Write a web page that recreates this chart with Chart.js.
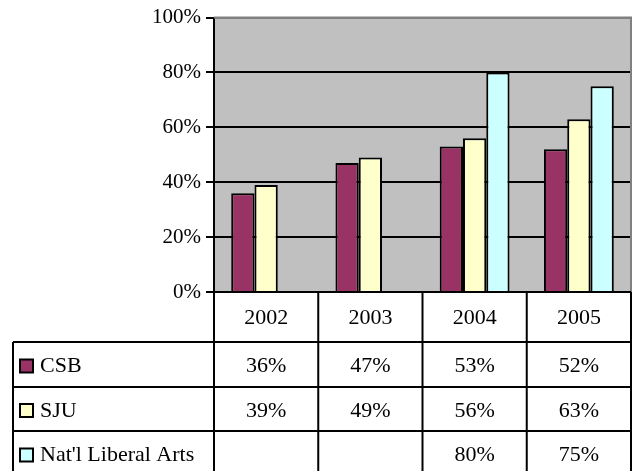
<!DOCTYPE html>
<html>
<head>
<meta charset="utf-8">
<script src="https://cdn.jsdelivr.net/npm/chart.js@4"></script>
<style>
  html, body { margin: 0; padding: 0; background: #ffffff; }
  #wrap { width: 634px; height: 471px; }
</style>
</head>
<body>
<div id="wrap"><canvas id="chart" width="634" height="471"></canvas></div>
<script>
// Dados do gráfico
const years = ['2002', '2003', '2004', '2005'];
const csb = [36, 47, 53, 52];
const sju = [39, 49, 56, 63];
const natlLiberalArts = [null, null, 80, 75];
const seriesNames = ['CSB', 'SJU', "Nat'l Liberal Arts"];
const seriesColors = ['#993366', '#ffffcc', '#ccffff'];

const serif = '"Liberation Serif", "DejaVu Serif", serif';

// Fundo cinza da área do gráfico e borda
const plotBackground = {
    id: 'plotBackground',
    beforeDraw(chart) {
        const { ctx, chartArea: a } = chart;
        ctx.save();
        ctx.fillStyle = '#c0c0c0';
        ctx.fillRect(a.left, a.top, a.right - a.left, a.bottom - a.top);
        ctx.restore();
    },
    afterDatasetsDraw(chart) {
        const { ctx, chartArea: a } = chart;
        ctx.save();
        ctx.strokeStyle = '#808080';
        ctx.lineWidth = 2;
        ctx.beginPath();
        ctx.moveTo(a.left, a.top);
        ctx.lineTo(a.right, a.top);
        ctx.lineTo(a.right, a.bottom);
        ctx.stroke();
        ctx.restore();
    }
};

// Tabela de dados abaixo do gráfico
const dataTable = {
    id: 'dataTable',
    afterDraw(chart) {
        const { ctx, chartArea: a } = chart;
        const x = chart.scales.x;
        const half = (x.getPixelForValue(1) - x.getPixelForValue(0)) / 2;
        const cols = years.map((_, i) => x.getPixelForValue(i) - half);
        cols.push(a.right);
        const rowLines = [a.bottom, 342, 387, 431, 476];
        const tableLeft = 13;

        ctx.save();
        ctx.strokeStyle = '#000000';
        ctx.lineWidth = 2;
        ctx.beginPath();
        // linhas horizontais
        ctx.moveTo(cols[0], rowLines[0]); ctx.lineTo(a.right, rowLines[0]);
        for (let r = 1; r < rowLines.length; r++) {
            ctx.moveTo(tableLeft, rowLines[r]);
            ctx.lineTo(a.right, rowLines[r]);
        }
        // linhas verticais
        cols.forEach(c => {
            ctx.moveTo(c, rowLines[0]);
            ctx.lineTo(c, rowLines[rowLines.length - 1]);
        });
        ctx.moveTo(tableLeft, rowLines[1]);
        ctx.lineTo(tableLeft, rowLines[rowLines.length - 1]);
        ctx.stroke();

        ctx.fillStyle = '#000000';
        ctx.font = '22px ' + serif;
        ctx.textAlign = 'center';
        ctx.textBaseline = 'middle';
        years.forEach((y, i) => {
            ctx.fillText(y, (cols[i] + cols[i + 1]) / 2, (rowLines[0] + rowLines[1]) / 2 + 1);
        });

        chart.data.datasets.forEach((ds, r) => {
            const cy = (rowLines[r + 1] + rowLines[r + 2]) / 2 + 2;
            // chave da legenda
            ctx.fillStyle = seriesColors[r];
            ctx.fillRect(20, cy - 7, 13, 13);
            ctx.strokeRect(20, cy - 7, 13, 13);
            ctx.fillStyle = '#000000';
            ctx.textAlign = 'left';
            ctx.fillText(seriesNames[r], 40, cy);
            ctx.textAlign = 'center';
            ds.data.forEach((v, i) => {
                if (v !== null) {
                    ctx.fillText(v + '%', (cols[i] + cols[i + 1]) / 2, cy);
                }
            });
        });
        ctx.restore();
    }
};

const config = {
    type: 'bar',
    data: {
        labels: years,
        datasets: [
            { label: seriesNames[0], data: csb, backgroundColor: seriesColors[0] },
            { label: seriesNames[1], data: sju, backgroundColor: seriesColors[1] },
            { label: seriesNames[2], data: natlLiberalArts, backgroundColor: seriesColors[2] }
        ]
    },
    options: {
        responsive: false,
        animation: false,
        layout: { padding: { top: 15, right: 3, bottom: 179, left: 0 } },
        datasets: {
            bar: {
                borderColor: '#000000',
                borderWidth: 2,
                barPercentage: 1,
                categoryPercentage: 0.67
            }
        },
        plugins: {
            legend: { display: false },
            tooltip: { enabled: false }
        },
        scales: {
            x: { display: false },
            y: {
                min: 0,
                max: 100,
                afterFit(scale) { scale.width = 214; },
                border: { color: '#000000', width: 2 },
                grid: {
                    color: ctx => ctx.tick && ctx.tick.value === 100 ? '#808080' : '#000000',
                    lineWidth: 2,
                    tickColor: '#000000',
                    tickLength: 8
                },
                ticks: {
                    stepSize: 20,
                    padding: 5,
                    color: '#000000',
                    font: { family: serif, size: 21 },
                    callback: v => v + '%'
                }
            }
        }
    },
    plugins: [plotBackground, dataTable]
};

new Chart(document.getElementById('chart'), config);
</script>
</body>
</html>
